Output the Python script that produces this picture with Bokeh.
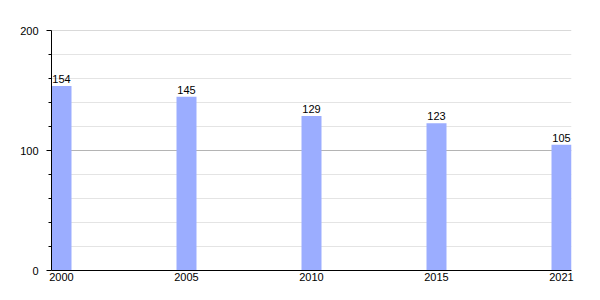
from bokeh.plotting import figure
from bokeh.models import FixedTicker, ColumnDataSource, Range1d, Span
from bokeh.core.properties import value
from bokeh.embed import file_html
from bokeh.resources import INLINE

years = ["2000", "2005", "2010", "2015", "2021"]
counts = [154, 145, 129, 123, 105]
y_major = [0, 100, 200]
y_minor = [20, 40, 60, 80, 120, 140, 160, 180]

xs = list(range(len(years)))
src = ColumnDataSource(dict(x=xs, top=counts, label=[str(c) for c in counts]))

p = figure(width=600, height=300, output_backend="svg", toolbar_location=None,
           x_range=Range1d(-0.08, len(years) - 1 + 0.08), y_range=Range1d(0, 200.4),
           min_border_left=51, min_border_right=29, min_border_top=30, min_border_bottom=30)
p.outline_line_color = None
p.background_fill_color = "white"
p.border_fill_color = "white"

p.xgrid.visible = False
p.ygrid.ticker = FixedTicker(ticks=y_major, minor_ticks=y_minor)
p.ygrid.grid_line_color = "#b4b4b4"
p.ygrid.minor_grid_line_color = "#e4e4e4"

p.vbar(x="x", top="top", width=0.16, bottom=0, source=src,
       fill_color="#9badff", line_color=None)
p.text(x="x", y="top", text="label", source=src, y_offset=-3,
       text_align="center", text_baseline="bottom",
       text_font=value("Liberation Sans"), text_font_size="11px", text_color="black")

yax = p.yaxis[0]
yax.ticker = FixedTicker(ticks=y_major, minor_ticks=y_minor)
yax.axis_line_color = "black"
yax.major_tick_in = 0
yax.major_tick_out = 5
yax.minor_tick_in = 0
yax.minor_tick_out = 3
yax.major_tick_line_color = "black"
yax.minor_tick_line_color = "black"
yax.major_label_standoff = 8
yax.major_label_text_font = "Liberation Sans"
yax.major_label_text_font_size = "11px"
yax.major_label_text_color = "black"

xax = p.xaxis[0]
xax.ticker = FixedTicker(ticks=xs)
xax.major_label_overrides = {i: y for i, y in zip(xs, years)}
xax.axis_line_color = "black"
xax.major_tick_line_color = None
xax.minor_tick_line_color = None
xax.major_tick_out = 0
xax.major_tick_in = 0
xax.major_label_standoff = 2
xax.major_label_text_font = "Liberation Sans"
xax.major_label_text_font_size = "11px"
xax.major_label_text_color = "black"

open("out.html", "w").write(file_html(p, INLINE))
